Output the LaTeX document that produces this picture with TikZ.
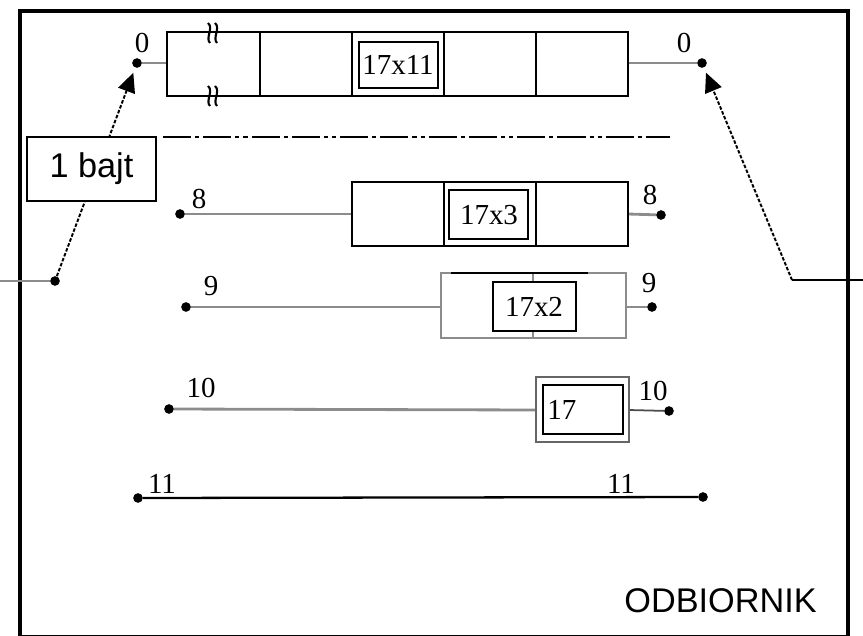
\documentclass[tikz,border=0pt]{standalone}
\usepackage{fontspec}
\setmainfont{Liberation Serif}
\newfontfamily\arialfont{Liberation Sans}
\usetikzlibrary{arrows.meta}

\begin{document}
\begin{tikzpicture}[x=0.02cm, y=-0.02cm,
    frame/.style={line width=2.3pt},
    cell/.style={line width=1.1pt},
    wire/.style={draw=black!45, line width=1.6pt},
    lead/.style={line width=1.1pt, dash pattern=on 2pt off 1pt, shorten >=3pt,
        -{Triangle[length=11pt,width=10pt]}},
    num/.style={font=\fontsize{16.5}{19}\selectfont, inner sep=0pt},
    dot/.style={circle, fill=black, inner sep=0pt, minimum size=5.5pt}]

    \useasboundingbox (0,0) rectangle (863,636);

    \def\xl{167};
    \def\xr{628};

    % ramka odbiornika
    \draw[frame] (20,11) rectangle (848,637);

    % wejscie i wyjscie
    \coordinate (inL) at (0,281);
    \node[dot] (swL) at (55,281) {};
    \coordinate (outR) at (863,280);
    \coordinate (swR) at (792,280);

    % punkty styku
    \node[dot] (a0) at (137,63) {};
    \node[dot] (b0) at (702,63) {};
    \node[dot] (a8) at (180,214) {};
    \node[dot] (b8) at (661,215) {};
    \node[dot] (a9) at (186,307) {};
    \node[dot] (b9) at (652,307) {};
    \node[dot] (a10) at (169,409) {};
    \node[dot] (b10) at (669,411) {};
    \node[dot] (a11) at (138,498) {};
    \node[dot] (b11) at (703,497) {};

    \node[num] at (142,43) {0};
    \node[num] at (684,43) {0};
    \node[num] at (199,199) {8};
    \node[num] at (650,195) {8};
    \node[num] at (211,286) {9};
    \node[num] at (649,283) {9};
    \node[num] at (201,388) {10};
    \node[num] at (653,391) {10};
    \node[num] at (162,484) {11};
    \node[num] at (621,484) {11};

    % przewody
    \draw[wire] (inL) -- (swL);
    \draw[wire] (a0) -- (\xl,63);
    \draw[wire] (\xr,63) -- (b0);
    \draw[wire] (a8) -- (352,214);
    \draw[wire] (\xr,214) -- (b8);
    \draw[wire] (a9) -- (441,307);
    \draw[wire] (626,307) -- (b9);
    \draw[wire] (a10) -- (536,410);
    \draw[draw=black!70, line width=1pt] (629,410) -- (b10);
    \draw[line width=1.3pt] (a11) -- (b11);
    \draw[line width=1pt] (swR) -- (outR);

    % przelaczniki
    \draw[lead] (swL) -- (a0);
    \draw[lead] (swR) -- (b0);

    % rejestr 17x11
    \draw[cell] (\xl,32) rectangle (\xr,96);
    \foreach \x in {260,352,444,536}
        \draw[cell] (\x,32) -- (\x,96);
    \draw[cell] (359,42) rectangle (438,88);
    \node[num] (r11) at (398,65) {17x11};
    \foreach \y in {33,96} {
        \draw[line width=1.2pt] (208,\y-10) .. controls (214,\y-5) and (205,\y+5) .. (210,\y+10);
        \draw[line width=1.2pt] (215,\y-10) .. controls (221,\y-5) and (212,\y+5) .. (217,\y+10);
    }

    \draw[line width=1.4pt, dash pattern=on 16pt off 2.3pt on 2.3pt off 2.3pt on 16pt off 2.3pt on 2.3pt off 2.3pt on 2.3pt off 2.3pt]
        (163,137) -- (670,137);

    % rejestr 17x3
    \draw[cell] (352,182) rectangle (\xr,246);
    \foreach \x in {444,536}
        \draw[cell] (\x,182) -- (\x,246);
    \draw[cell] (449,190) rectangle (528,239);
    \node[num] (r3) at (489,215) {17x3};

    % rejestr 17x2
    \draw[draw=black!45, line width=1.1pt] (441,273) rectangle (626,338);
    \draw[draw=black!45, line width=0.8pt] (533,273) -- (533,338);
    \draw[cell] (451,273) -- (588,273);
    \filldraw[fill=white, cell] (493,282) rectangle (576,331);
    \node[num] (r2) at (534,307) {17x2};

    % rejestr 17
    \draw[draw=black!60, line width=1.1pt] (536,377) rectangle (629,442);
    \draw[cell] (543,385) rectangle (623,434);
    \node[num, anchor=west] (r1) at (547,410) {17};

    % opis
    \node[draw, fill=white, line width=1.1pt, minimum width=2.58cm, minimum height=1.28cm,
        font=\arialfont\fontsize{19.5}{23}\selectfont] (bajt) at (91.5,169) {1 bajt};
    \node[anchor=east, inner sep=0pt, font=\arialfont\fontsize{19.5}{23}\selectfont]
        (odb) at (817,601) {ODBIORNIK};

\end{tikzpicture}
\end{document}
